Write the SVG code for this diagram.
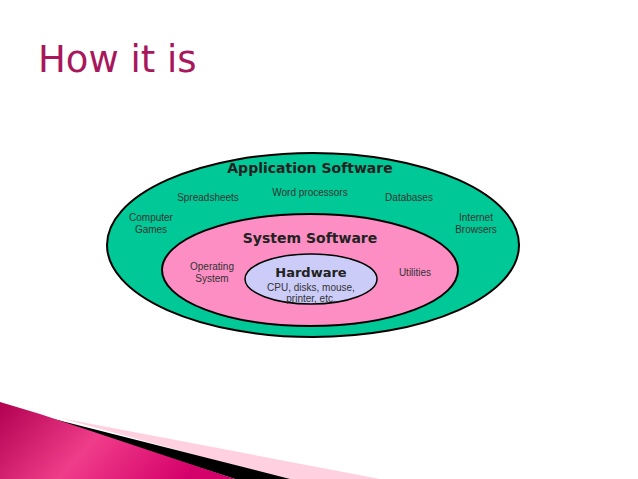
<svg xmlns="http://www.w3.org/2000/svg" width="638" height="479" viewBox="0 0 638 479">
<style>
.t{font-family:"Liberation Sans",Arial,sans-serif;font-size:10px;fill:#333;text-anchor:middle}
.h{font-family:"DejaVu Sans",sans-serif;font-weight:bold;fill:#222;text-anchor:middle}
</style>
<defs>
<linearGradient id="pg" x1="0" y1="0" x2="1" y2="0.3">
<stop offset="0" stop-color="#b0004f"/><stop offset="0.5" stop-color="#f03d8a"/><stop offset="1" stop-color="#d4006a"/>
</linearGradient>
</defs>
<rect width="638" height="479" fill="#fff"/>
<text x="38" y="72" font-family="DejaVu Sans, sans-serif" font-size="37" fill="#a8175c">How it is</text>
<g id="application">
<ellipse cx="313" cy="245" rx="206" ry="92" fill="#00c896" stroke="#000" stroke-width="2"/>
<text class="h" x="310" y="173" font-size="14">Application Software</text>
<text class="t" x="208" y="201">Spreadsheets</text>
<text class="t" x="310" y="196">Word processors</text>
<text class="t" x="409" y="201">Databases</text>
<text class="t" x="151" y="221">Computer</text>
<text class="t" x="151" y="233">Games</text>
<text class="t" x="476" y="221">Internet</text>
<text class="t" x="476" y="233">Browsers</text>
</g>
<g id="system">
<ellipse cx="310" cy="270" rx="148" ry="56" fill="#fc8ec4" stroke="#000" stroke-width="2"/>
<text class="h" x="310" y="243" font-size="14">System Software</text>
<text class="t" x="212" y="270">Operating</text>
<text class="t" x="212" y="282">System</text>
<text class="t" x="415" y="276">Utilities</text>
</g>
<g id="hardware">
<ellipse cx="311" cy="279" rx="66" ry="25" fill="#ccccf8" stroke="#000" stroke-width="1.5"/>
<text class="h" x="311" y="277" font-size="13">Hardware</text>
<text class="t" x="311" y="291">CPU, disks, mouse,</text>
<text class="t" x="311" y="302">printer, etc.</text>
</g>
<g id="decor">
<polygon points="60,418 380,479 285,479" fill="#ffd0e0"/>
<polygon points="30,413 290,479 235,479" fill="#000"/>
<polygon points="0,402 40,414 235,479 0,479" fill="url(#pg)"/>
</g>
</svg>
